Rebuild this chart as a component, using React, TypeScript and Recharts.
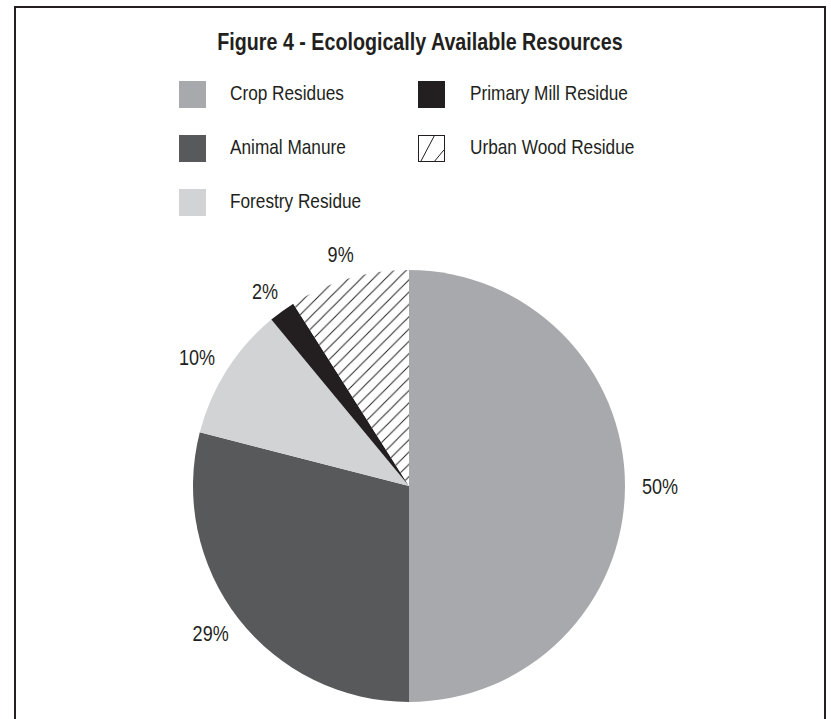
import { Cell, Legend, Pie, PieChart } from "recharts";

// Figure 4 pie: five resource types, shares in percent.
const categories = [
  "Crop Residues",
  "Animal Manure",
  "Forestry Residue",
  "Primary Mill Residue",
  "Urban Wood Residue",
];
const shares = [50, 29, 10, 2, 9];
const shareLabels = ["50%", "29%", "10%", "2%", "9%"];

const fills = ["#a7a9ac", "#58595b", "#d1d3d4", "#231f20", "url(#urbanHatch)"];
const INK = "#231f20";
// no narrow font installed, so squeeze Liberation Sans to look like a condensed face
const FONT = '"Liberation Sans", Arial, sans-serif';
const NARROW = 0.82;

const data = categories.map((name, i) => ({ name, value: shares[i], label: shareLabels[i] }));

// legend grid: first three in the left column, the rest on the right
const legendColX = [179, 418];
const legendTextX = [230, 470];
const legendRowY = [94, 148, 202];
const SWATCH = 27;

const RAD = Math.PI / 180;

// outside-end placement: box edge sits a fixed gap beyond the rim
function renderLabel(props: any) {
  const { cx, cy, midAngle, outerRadius, index } = props;
  const dx = Math.cos(-midAngle * RAD);
  const dy = Math.sin(-midAngle * RAD);
  const text = data[index].label;
  const halfW = (text.length * 12) / 2;
  const halfH = 8;
  const r = outerRadius + 17;
  const x = cx + r * dx + dx * halfW;
  const y = cy + r * dy + dy * halfH;
  return (
    <text
      transform={`translate(${x},${y}) scale(${NARROW},1)`}
      x={0}
      y={0}
      textAnchor="middle"
      dominantBaseline="central"
      fill={INK}
      fontFamily={FONT}
      fontSize={22}
    >
      {text}
    </text>
  );
}

function HatchSwatch() {
  return (
    <svg width={SWATCH} height={SWATCH} style={{ display: "block" }}>
      <rect x={0.5} y={0.5} width={SWATCH - 1} height={SWATCH - 1} fill="#fff" stroke={INK} strokeWidth={1} />
      <line x1={3} y1={SWATCH - 1} x2={SWATCH * 0.6} y2={1} stroke={INK} strokeWidth={1} />
      <line x1={SWATCH * 0.62} y1={SWATCH - 1} x2={SWATCH - 1} y2={SWATCH * 0.55} stroke={INK} strokeWidth={1} />
    </svg>
  );
}

function LegendGrid() {
  return (
    <div style={{ position: "relative", width: 831, height: 230 }}>
      {categories.map((name, i) => {
        const col = i < 3 ? 0 : 1;
        const row = i < 3 ? i : i - 3;
        const y = legendRowY[row];
        return (
          <div key={name}>
            <div
              style={{
                position: "absolute",
                left: legendColX[col],
                top: y - SWATCH / 2,
                width: SWATCH,
                height: SWATCH,
                background: i === 4 ? "transparent" : fills[i],
              }}
            >
              {i === 4 && <HatchSwatch />}
            </div>
            <div
              style={{
                position: "absolute",
                left: legendTextX[col],
                top: y - 13,
                height: 24,
                lineHeight: "24px",
                fontFamily: FONT,
                fontSize: 21,
                color: INK,
                whiteSpace: "nowrap",
                transform: `scaleX(${NARROW})`,
                transformOrigin: "left center",
              }}
            >
              {name}
            </div>
          </div>
        );
      })}
    </div>
  );
}

export default function App() {
  return (
    <div
      style={{
        position: "absolute",
        left: 0,
        top: 0,
        width: 831,
        height: 719,
        overflow: "hidden",
        background: "#fff",
      }}
    >
      <div
        style={{
          position: "absolute",
          left: 14,
          top: 6,
          width: 812,
          height: 760,
          boxSizing: "border-box",
          border: `2px solid ${INK}`,
        }}
      />
      <div
        style={{
          position: "absolute",
          left: 14,
          width: 812,
          top: 30,
          textAlign: "center",
          fontFamily: FONT,
          fontWeight: 700,
          fontSize: 24,
          lineHeight: "24px",
          color: INK,
          whiteSpace: "nowrap",
          transform: `scaleX(${NARROW})`,
          transformOrigin: "center",
        }}
      >
        Figure 4 - Ecologically Available Resources
      </div>
      <div style={{ position: "absolute", left: 0, top: 0 }}>
        <PieChart width={831} height={719}>
          <defs>
            <pattern id="urbanHatch" patternUnits="userSpaceOnUse" width={12.3} height={12.3}>
              <rect width={12.3} height={12.3} fill="#fff" />
              <path
                d="M0,12.3 L12.3,0 M-3,3 L3,-3 M9.3,15.3 L15.3,9.3"
                stroke={INK}
                strokeWidth={1}
              />
            </pattern>
          </defs>
          <Legend
            content={() => <LegendGrid />}
            wrapperStyle={{ position: "absolute", left: 0, top: 0, width: 831 }}
          />
          <Pie
            data={data}
            dataKey="value"
            nameKey="name"
            cx={404}
            cy={481}
            outerRadius={216}
            startAngle={90}
            endAngle={-270}
            stroke="none"
            label={renderLabel}
            labelLine={false}
            isAnimationActive={false}
          >
            {data.map((d, i) => (
              <Cell key={d.name} fill={fills[i]} />
            ))}
          </Pie>
        </PieChart>
      </div>
    </div>
  );
}
